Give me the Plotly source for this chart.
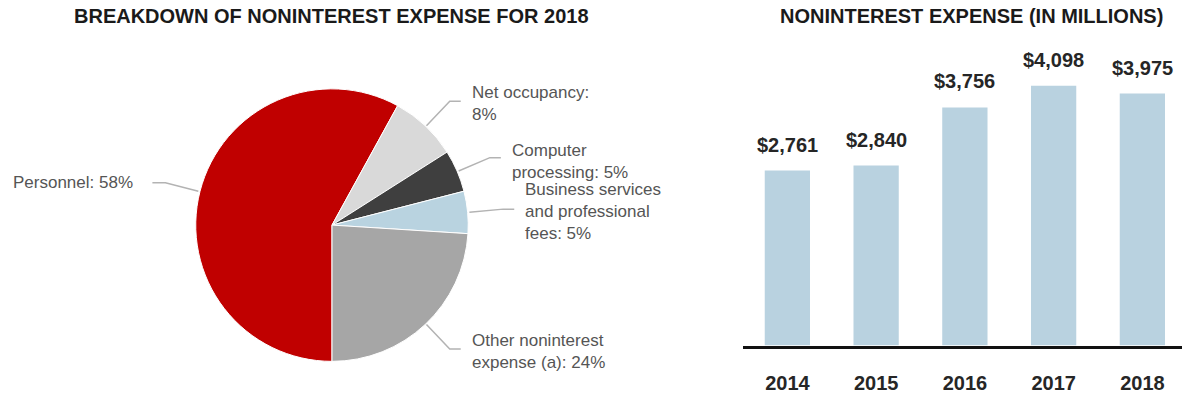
import math
import plotly.graph_objects as go

W, H = 1182, 394

# ---- data ----------------------------------------------------------------
slice_names = [
    "Personnel",
    "Net occupancy",
    "Computer processing",
    "Business services and professional fees",
    "Other noninterest expense (a)",
]
slice_pct = [58, 8, 5, 5, 24]
slice_label_fmt = [
    "Personnel: {}%",
    "Net occupancy:<br>{}%",
    "Computer<br>processing: {}%",
    "Business services<br>and professional<br>fees: {}%",
    "Other noninterest<br>expense (a): {}%",
]
slice_colors = ["#c00000", "#d9d9d9", "#3f3f3f", "#b9d3e0", "#a6a6a6"]

years = ["2014", "2015", "2016", "2017", "2018"]
expense = [2761, 2840, 3756, 4098, 3975]

# ---- layout constants (pixels) ------------------------------------------
FONT = "Liberation Sans, Arial, Helvetica, sans-serif"
PIE_CX, PIE_CY, PIE_R = 332, 228, 138
LEADER_OUT = 34      # radial length of the leader line beyond the rim
LEADER_RUN = 11      # horizontal run after the elbow
TEXT_GAP = 9
TEXT_DY = [0, 2, 3.5, 2.5, 3]   # label block centre below the leader elbow
BAR_LEFT, BAR_BASE, BAR_TOP = 743, 350, 40
PX_PER_UNIT = 0.0642
CAT_PX = 88.75


def px(x):
    return x / W


def py(y):
    return 1 - y / H


fig = go.Figure()

# ---- pie -----------------------------------------------------------------
fig.add_trace(go.Pie(
    labels=slice_names,
    values=slice_pct,
    sort=False,
    direction="clockwise",
    rotation=180,
    textinfo="none",
    hoverinfo="label+percent",
    showlegend=False,
    marker=dict(colors=slice_colors, line=dict(color="white", width=1)),
    domain=dict(
        x=[px(PIE_CX - PIE_R), px(PIE_CX + PIE_R)],
        y=[py(PIE_CY + PIE_R), py(PIE_CY - PIE_R)],
    ),
))

shapes = []
annotations = []
total = sum(slice_pct)
cum = 0
for name_fmt, v, dy in zip(slice_label_fmt, slice_pct, TEXT_DY):
    mid = math.radians(180 + 360 * (cum + v / 2) / total)
    cum += v
    sx, sy = math.sin(mid), -math.cos(mid)
    ex, ey = PIE_CX + PIE_R * sx, PIE_CY + PIE_R * sy
    kx, ky = PIE_CX + (PIE_R + LEADER_OUT) * sx, PIE_CY + (PIE_R + LEADER_OUT) * sy
    right = sx > 0
    endx = kx + LEADER_RUN if right else kx - LEADER_RUN - 2
    shapes.append(dict(
        type="path", xref="paper", yref="paper",
        path=f"M {px(ex)} {py(ey)} L {px(kx)} {py(ky)} L {px(endx)} {py(ky)}",
        line=dict(color="#b3b3b3", width=1.5),
    ))
    tx = endx + TEXT_GAP if right else endx - 17
    annotations.append(dict(
        x=px(tx), y=py(ky + dy), xref="paper", yref="paper",
        xanchor="left" if right else "right", yanchor="middle",
        align="left" if right else "right",
        text=name_fmt.format(v), showarrow=False,
        font=dict(family=FONT, size=17, color="#555555"),
    ))

# ---- bars ----------------------------------------------------------------
fig.add_trace(go.Bar(
    x=years, y=expense, width=0.51,
    marker=dict(color="#b9d2e0", line=dict(width=0)),
    showlegend=False, hoverinfo="x+y",
))
for i, v in enumerate(expense):
    annotations.append(dict(
        x=i, y=v, xref="x", yref="y", yanchor="middle", yshift=26,
        text=f"${v:,}", showarrow=False,
        font=dict(family=FONT, size=20, color="#262626", weight=700),
    ))

# ---- titles --------------------------------------------------------------
for text, cx in [("BREAKDOWN OF NONINTEREST EXPENSE FOR 2018", 331),
                 ("NONINTEREST EXPENSE (IN MILLIONS)", 971)]:
    annotations.append(dict(
        x=px(cx), y=py(16.5), xref="paper", yref="paper",
        xanchor="center", yanchor="middle", text=text, showarrow=False,
        font=dict(family=FONT, size=20, color="#1a1a1a", weight=700),
    ))

x_span = (W - BAR_LEFT) / CAT_PX
fig.update_layout(
    width=W, height=H,
    margin=dict(l=0, r=0, t=0, b=0),
    paper_bgcolor="white", plot_bgcolor="white",
    font=dict(family=FONT),
    xaxis=dict(
        domain=[px(BAR_LEFT), 1], type="category",
        range=[-0.5, -0.5 + x_span],
        showline=True, linecolor="#111111", linewidth=2.5,
        showgrid=False, zeroline=False,
        ticks="outside", ticklen=18, tickcolor="rgba(0,0,0,0)",
        tickfont=dict(family=FONT, size=20, color="#262626", weight=700),
        fixedrange=True,
    ),
    yaxis=dict(
        domain=[py(BAR_BASE), py(BAR_TOP)],
        range=[0, (BAR_BASE - BAR_TOP) / PX_PER_UNIT],
        visible=False, showgrid=False, zeroline=False, fixedrange=True,
    ),
    bargap=0.49,
    shapes=shapes,
    annotations=annotations,
)

fig.write_html("out.html")
